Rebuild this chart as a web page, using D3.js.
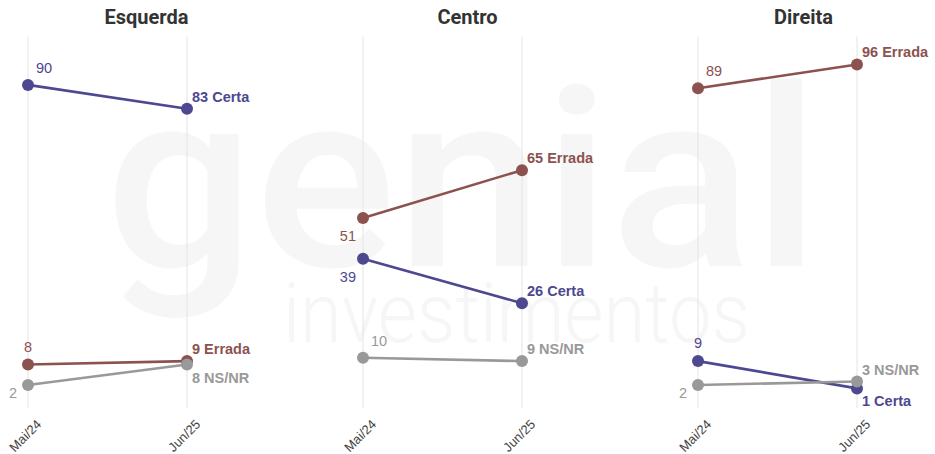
<!DOCTYPE html>
<html>
<head>
<meta charset="utf-8">
<script src="https://cdn.jsdelivr.net/npm/d3@7"></script>
<style>
  body { margin: 0; background: #fff; }
  svg { display: block; }
</style>
</head>
<body>
<svg id="chart"></svg>
<script>
const panels = ["Esquerda", "Centro", "Direita"];
const periods = ["Mai/24", "Jun/25"];
const seriesNames = ["Certa", "Errada", "NS/NR"];
// values per panel: [Mai/24, Jun/25]
const certa = [[90, 83], [39, 26], [9, 1]];
const errada = [[8, 9], [51, 65], [89, 96]];
const nsnr = [[2, 8], [10, 9], [2, 3]];

// where the first/last value labels sit, per panel, per series
const startPlace = [
  { "Certa": "ar", "Errada": "a", "NS/NR": "bl" },
  { "Certa": "bl2", "Errada": "bl2", "NS/NR": "ar" },
  { "Certa": "a", "Errada": "ar", "NS/NR": "bl" }
];
const endPlace = [
  { "Certa": "up", "Errada": "up", "NS/NR": "down" },
  { "Certa": "up", "Errada": "up", "NS/NR": "up" },
  { "Certa": "down", "Errada": "up", "NS/NR": "up" }
];

const colors = { "Certa": "#4d4890", "Errada": "#8c524f", "NS/NR": "#999999" };
const values = { "Certa": certa, "Errada": errada, "NS/NR": nsnr };

const width = 935, height = 454;
const panelStep = 335;
const titleOffsets = [39, 25, 26];

const svg = d3.select("#chart").attr("width", width).attr("height", height);

// watermark
svg.append("text")
  .attr("x", 105).attr("y", 266)
  .attr("textLength", 715).attr("lengthAdjust", "spacingAndGlyphs")
  .style("font-family", "Roboto").style("font-weight", 500).style("font-size", "250px")
  .style("fill", "#f5f6f5")
  .text("genial");
svg.append("text")
  .attr("x", 283).attr("y", 342)
  .attr("textLength", 467).attr("lengthAdjust", "spacingAndGlyphs")
  .style("font-family", "Roboto").style("font-weight", 300).style("font-size", "84px")
  .style("fill", "#f5f6f5")
  .text("investimentos");

const y = d3.scaleLinear().domain([0, 100]).range([391.8, 50.8]);

const line = d3.line()
  .x(d => d.x)
  .y(d => y(d.v));

const startOffsets = {
  ar: { dx: 8, dy: -12, anchor: "start" },
  a: { dx: 0, dy: -13, anchor: "middle" },
  bl: { dx: -11, dy: 13, anchor: "end" },
  bl2: { dx: -7, dy: 23, anchor: "end" }
};

panels.forEach((name, i) => {
  const g = svg.append("g").attr("transform", `translate(${i * panelStep},0)`);
  const x = d3.scalePoint().domain(periods).range([28, 187]);

  g.append("text")
    .attr("x", (x(periods[0]) + x(periods[1])) / 2 + titleOffsets[i])
    .attr("y", 24)
    .attr("text-anchor", "middle")
    .style("font-family", "Roboto").style("font-weight", 700).style("font-size", "20px")
    .style("fill", "#333")
    .text(name);

  g.selectAll(".grid")
    .data(periods)
    .join("line")
    .attr("class", "grid")
    .attr("x1", d => x(d)).attr("x2", d => x(d))
    .attr("y1", y(104.2)).attr("y2", y(-4.8))
    .style("stroke", "#e4e4e4").style("stroke-width", 1);

  g.selectAll(".tick-label")
    .data(periods)
    .join("text")
    .attr("class", "tick-label")
    .attr("transform", d => `translate(${x(d) + 11},${y(-8.8)}) rotate(-45)`)
    .attr("text-anchor", "end")
    .attr("dy", "0.35em")
    .style("font-family", "Liberation Sans").style("font-size", "13px")
    .style("fill", "#444")
    .text(d => d);

  seriesNames.forEach(s => {
    const pts = periods.map((p, j) => ({ x: x(p), v: values[s][i][j] }));
    const c = colors[s];

    g.append("path")
      .datum(pts)
      .attr("d", line)
      .style("fill", "none").style("stroke", c).style("stroke-width", 2.6);

    g.selectAll(null)
      .data(pts)
      .join("circle")
      .attr("cx", d => d.x).attr("cy", d => y(d.v)).attr("r", 6)
      .style("fill", c);

    const so = startOffsets[startPlace[i][s]];
    g.append("text")
      .attr("x", pts[0].x + so.dx).attr("y", y(pts[0].v) + so.dy)
      .attr("text-anchor", so.anchor)
      .style("font-family", "Liberation Sans").style("font-size", "14.5px")
      .style("fill", c)
      .text(pts[0].v);

    const up = endPlace[i][s] === "up";
    g.append("text")
      .attr("x", pts[1].x + 5).attr("y", y(pts[1].v) + (up ? -7 : 18))
      .style("font-family", "Liberation Sans").style("font-weight", 700).style("font-size", "14.5px")
      .style("fill", c)
      .text(`${pts[1].v} ${s}`);
  });
});
</script>
</body>
</html>
